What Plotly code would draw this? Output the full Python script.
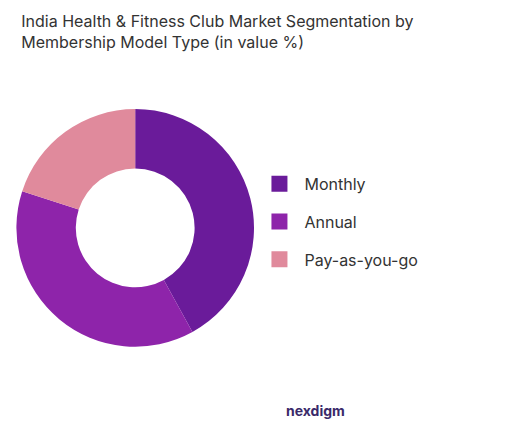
import plotly.graph_objects as go

labels = ["Monthly", "Annual", "Pay-as-you-go"]
values = [42, 38, 20]
colors = ["#6a1b9a", "#8e24aa", "#e08a9c"]

fig = go.Figure(go.Pie(
    labels=labels, values=values, hole=0.5, sort=False, direction="clockwise",
    rotation=0, marker=dict(colors=colors), textinfo="none", showlegend=False,
    domain=dict(x=[0.015, 0.465], y=[0.216, 0.766]),
))
for lab, col in zip(labels, colors):
    fig.add_trace(go.Scatter(x=[None], y=[None], mode="markers", name=lab, legendgroup=lab,
                             marker=dict(symbol="square", size=16, color=col)))
fig.update_layout(
    width=530, height=432, paper_bgcolor="white", plot_bgcolor="white",
    margin=dict(l=0, r=0, t=0, b=0),
    xaxis=dict(visible=False), yaxis=dict(visible=False),
    title=dict(text="India Health & Fitness Club Market Segmentation by<br>Membership Model Type (in value %)",
               x=0.025, xanchor="left", y=0.955, yanchor="top",
               font=dict(family="Inter", size=16, color="#333")),
    legend=dict(x=0.465, y=0.505, xanchor="left", yanchor="middle",
                font=dict(family="Inter", size=16, color="#333"),
                tracegroupgap=14, itemwidth=40),
    annotations=[dict(text="<b>nexdigm</b>", x=0.58, y=0.045, xref="paper", yref="paper",
                      showarrow=False, font=dict(family="Inter", size=14, color="#3a2a6a"))],
)
fig.write_html("out.html")
